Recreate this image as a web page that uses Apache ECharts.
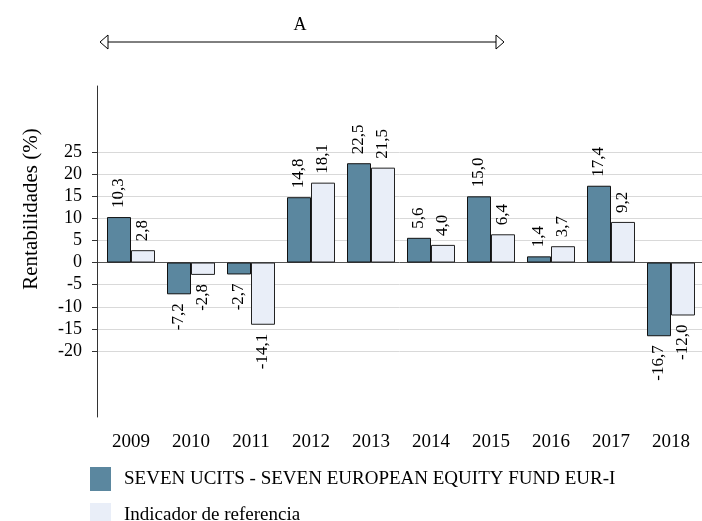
<!DOCTYPE html>
<html>
<head>
<meta charset="utf-8">
<script src="https://cdn.jsdelivr.net/npm/echarts@6/dist/echarts.min.js"></script>
<style>
    html, body { margin: 0; padding: 0; background: #fff; }
    #main { width: 702px; height: 521px; }
</style>
</head>
<body>
<div id="main"></div>
<script>
var years = ['2009', '2010', '2011', '2012', '2013', '2014', '2015', '2016', '2017', '2018'];
var fundValues = [10.3, -7.2, -2.7, 14.8, 22.5, 5.6, 15.0, 1.4, 17.4, -16.7];
var refValues = [2.8, -2.8, -14.1, 18.1, 21.5, 4.0, 6.4, 3.7, 9.2, -12.0];
var seriesNames = ['SEVEN UCITS - SEVEN EUROPEAN EQUITY FUND EUR-I', 'Indicador de referencia'];

var font = '"Liberation Serif", "Times New Roman", serif';

function fmt(v) {
    return v.toFixed(1).replace('.', ',');
}

// positive labels above the bar, negative ones below
function withLabels(values) {
    return values.map(function (v) {
        return {
            value: v,
            label: v >= 0
                ? {position: 'top', align: 'left'}
                : {position: 'bottom', align: 'right'}
        };
    });
}

var labelStyle = {
    show: true,
    rotate: 90,
    distance: 9,
    verticalAlign: 'middle',
    fontFamily: font,
    fontSize: 17,
    color: '#000',
    formatter: function (p) { return fmt(p.value); }
};

// grid lines only from -20 to 25, zero line darker
var gridColors = [];
for (var i = -20; i <= 25; i += 5) {
    gridColors.push(i === 0 ? '#555' : '#d9d9d9');
}

function legendFor(name, top) {
    return {
        orient: 'vertical',
        left: 85,
        top: top,
        itemWidth: 21,
        itemHeight: 24,
        icon: 'rect',
        itemStyle: {borderWidth: 0},
        textStyle: {fontFamily: font, fontSize: 19, color: '#000', padding: [0, 0, 0, 8]},
        data: [name]
    };
}

var myChart = echarts.init(document.getElementById('main'));
var option = {
    animation: false,
    textStyle: {fontFamily: font},
    grid: [
        {left: 101, right: 1, top: 86, bottom: 104},
        {left: 97, right: 0, top: 152, bottom: 170}
    ],
    legend: [
        legendFor(seriesNames[0], 462),
        legendFor(seriesNames[1], 498)
    ],
    xAxis: [
        {
            type: 'category',
            data: years,
            gridIndex: 0,
            axisLine: {show: false},
            axisTick: {show: false},
            axisLabel: {fontFamily: font, fontSize: 19, color: '#000', margin: 16}
        },
        {type: 'value', gridIndex: 1, show: false, min: 0, max: 1}
    ],
    yAxis: [
        {
            type: 'value',
            gridIndex: 0,
            min: -35,
            max: 40,
            interval: 5,
            offset: 4,
            axisLine: {show: true, onZero: false, lineStyle: {color: '#333', width: 1}},
            axisTick: {show: false},
            axisLabel: {show: false},
            splitLine: {show: false}
        },
        {
            type: 'value',
            gridIndex: 1,
            min: -20,
            max: 25,
            interval: 5,
            axisLine: {show: false},
            axisTick: {show: true, length: 5, lineStyle: {color: '#333'}},
            axisLabel: {fontFamily: font, fontSize: 18, color: '#000', margin: 15},
            splitLine: {show: true, lineStyle: {color: gridColors, width: 1}}
        }
    ],
    graphic: [
        {
            type: 'text',
            x: 31,
            y: 209,
            rotation: Math.PI / 2,
            style: {
                text: 'Rentabilidades (%)',
                font: '21px ' + font,
                fill: '#000',
                textAlign: 'center',
                textVerticalAlign: 'middle'
            }
        },
        {
            type: 'text',
            x: 300,
            y: 25,
            style: {
                text: 'A',
                font: '18px ' + font,
                fill: '#000',
                textAlign: 'center',
                textVerticalAlign: 'middle'
            }
        },
        {
            type: 'line',
            shape: {x1: 108, y1: 42, x2: 496, y2: 42},
            style: {stroke: '#000', lineWidth: 1}
        },
        {
            type: 'polygon',
            shape: {points: [[100, 42], [108, 35], [108, 49]]},
            style: {fill: '#fff', stroke: '#000', lineWidth: 1}
        },
        {
            type: 'polygon',
            shape: {points: [[504, 42], [496, 35], [496, 49]]},
            style: {fill: '#fff', stroke: '#000', lineWidth: 1}
        }
    ],
    series: [
        {
            name: seriesNames[0],
            type: 'bar',
            xAxisIndex: 0,
            yAxisIndex: 0,
            barGap: '0%',
            barCategoryGap: '20%',
            itemStyle: {color: '#5b879f', borderColor: '#111', borderWidth: 1},
            label: labelStyle,
            data: withLabels(fundValues)
        },
        {
            name: seriesNames[1],
            type: 'bar',
            xAxisIndex: 0,
            yAxisIndex: 0,
            barGap: '0%',
            barCategoryGap: '20%',
            itemStyle: {color: '#e9eef8', borderColor: '#222', borderWidth: 1},
            label: labelStyle,
            data: withLabels(refValues)
        }
    ]
};

myChart.setOption(option);
</script>
</body>
</html>
